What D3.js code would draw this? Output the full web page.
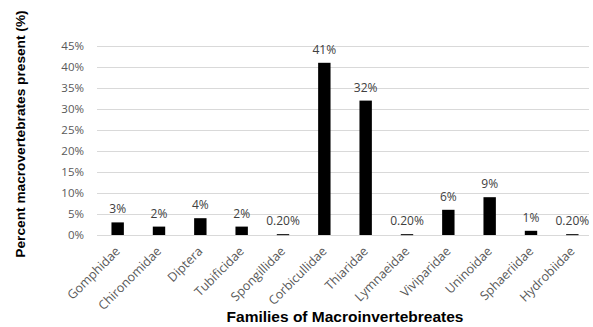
<!DOCTYPE html>
<html>
<head>
<meta charset="utf-8">
<script src="https://cdn.jsdelivr.net/npm/d3@7"></script>
<style>
  body { margin: 0; background: #fff; }
  svg text { font-family: "Open Sans", "Liberation Sans", sans-serif; }
</style>
</head>
<body>
<div id="chart"></div>
<script>
/* --- データ --- */
const families = ["Gomphidae", "Chironomidae", "Diptera", "Tubificidae", "Spongillidae",
  "Corbicullidae", "Thiaridae", "Lymnaeidae", "Viviparidae", "Uninoidae", "Sphaeriidae", "Hydrobiidae"];
const percents = [3, 2, 4, 2, 0.2, 41, 32, 0.2, 6, 9, 1, 0.2];
const valueLabels = ["3%", "2%", "4%", "2%", "0.20%", "41%", "32%", "0.20%", "6%", "9%", "1%", "0.20%"];
const yTicks = [0, 5, 10, 15, 20, 25, 30, 35, 40, 45];

/* --- サイズ --- */
const width = 593, height = 327;
const margin = {top: 46, right: 0, bottom: 92, left: 97};

const svg = d3.select("#chart").append("svg")
  .attr("width", width)
  .attr("height", height);

/* --- スケール --- */
const x = d3.scaleBand()
  .domain(families)
  .range([margin.left, width - margin.right])
  .paddingInner(0.7)
  .paddingOuter(0.35);

const y = d3.scaleLinear()
  .domain([0, 45])
  .range([height - margin.bottom, margin.top]);

/* --- グリッド線 --- */
svg.append("g")
  .selectAll("line")
  .data(yTicks)
  .join("line")
  .attr("x1", margin.left)
  .attr("x2", width - 4)
  .attr("y1", d => Math.round(y(d)) + 0.5)
  .attr("y2", d => Math.round(y(d)) + 0.5)
  .attr("stroke", "#d9d9d9")
  .attr("stroke-width", 1);

/* --- Y軸 --- */
const yAxis = d3.axisLeft(y)
  .tickValues(yTicks)
  .tickFormat(d => d + "%")
  .tickSize(0)
  .tickPadding(13);

svg.append("g")
  .attr("transform", "translate(" + margin.left + ",0)")
  .call(yAxis)
  .call(g => g.select(".domain").remove())
  .selectAll("text")
  .attr("fill", "#595959")
  .style("font-size", "11.5px");

/* --- X軸 --- */
const xAxis = d3.axisBottom(x).tickSize(0).tickPadding(0);

svg.append("g")
  .attr("transform", "translate(0," + y(0) + ")")
  .call(xAxis)
  .call(g => g.select(".domain").remove())
  .selectAll("text")
  .attr("fill", "#595959")
  .style("font-size", "12.5px")
  .attr("text-anchor", "end")
  .attr("dy", "0.35em")
  .attr("transform", "translate(0,14) rotate(-45)");

/* --- 棒 --- */
svg.append("g")
  .selectAll("rect")
  .data(percents)
  .join("rect")
  .attr("x", (d, i) => x(families[i]))
  .attr("y", d => y(d))
  .attr("width", x.bandwidth())
  .attr("height", d => Math.max(1, y(0) - y(d)))
  .attr("fill", "#000");

/* --- データラベル --- */
svg.append("g")
  .selectAll("text")
  .data(percents)
  .join("text")
  .attr("x", (d, i) => x(families[i]) + x.bandwidth() / 2)
  .attr("y", d => y(d) - 9)
  .attr("text-anchor", "middle")
  .attr("fill", "#404040")
  .style("font-size", "12px")
  .text((d, i) => valueLabels[i]);

/* --- 軸タイトル --- */
svg.append("text")
  .attr("transform", "translate(25,134) rotate(-90)")
  .attr("text-anchor", "middle")
  .style("font-family", "'Liberation Sans', Arial, sans-serif")
  .style("font-size", "13.7px")
  .style("font-weight", "bold")
  .text("Percent macrovertebrates present (%)");

svg.append("text")
  .attr("x", 345)
  .attr("y", 322)
  .attr("text-anchor", "middle")
  .style("font-family", "'Liberation Sans', Arial, sans-serif")
  .style("font-size", "15.5px")
  .style("font-weight", "bold")
  .text("Families of Macroinvertebreates");
</script>
</body>
</html>
